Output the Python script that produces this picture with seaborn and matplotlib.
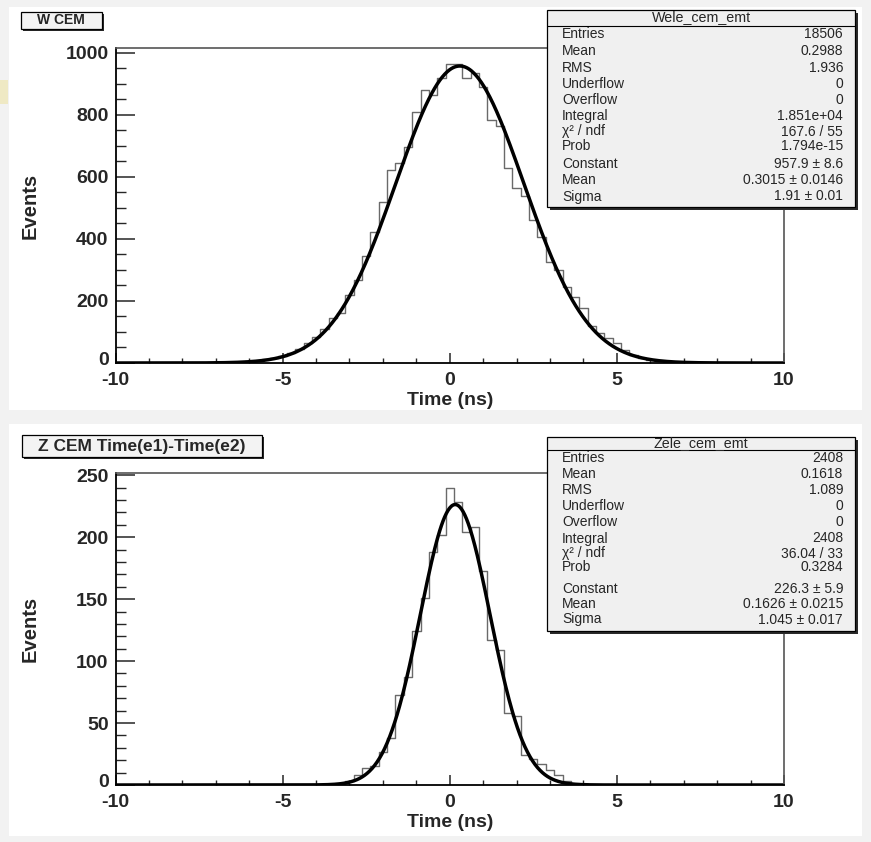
import numpy as np
import pandas as pd
import matplotlib
matplotlib.use("Agg")
import matplotlib.pyplot as plt
import matplotlib.transforms as mtrans
import seaborn as sns
from matplotlib.patches import Rectangle
from matplotlib.ticker import MultipleLocator, FixedLocator

# ---------------- data ----------------
w_counts = [1, 1, 2, 2, 4, 5, 7, 12, 16, 22, 33, 46, 63, 84, 110, 145, 161, 219, 267,
            345, 422, 520, 622, 644, 698, 810, 880, 864, 918,
            963, 963, 918, 934, 891, 784, 765, 628, 563, 540, 461, 407, 326, 300, 246,
            212, 176, 120, 97, 81, 64, 41, 25, 16, 10, 7, 4, 3, 1]
w_first_edge = -7.375
z_counts = [1, 0, 1, 1, 3, 8, 14, 15, 27, 38, 73, 87, 124, 151, 188, 202,
            240, 228, 204, 208, 173, 117, 109, 58, 56, 24, 21, 17, 12, 8, 3, 1, 1]
z_first_edge = -4.125
bin_width = 0.25

w_fit = [957.9, 0.3015, 1.91]      # constant, mean, sigma
z_fit = [226.3, 0.1626, 1.045]

stat_labels = ["Entries", "Mean", "RMS", "Underflow", "Overflow", "Integral",
               "\u03c7\u00b2 / ndf", "Prob", "Constant", "Mean", "Sigma"]
w_stat_values = ["18506", "0.2988", "1.936", "0", "0", "1.851e+04", "167.6 / 55",
                 "1.794e-15", "957.9 \u00b1 8.6", "0.3015 \u00b1 0.0146", "1.91 \u00b1 0.01"]
z_stat_values = ["2408", "0.1618", "1.089", "0", "0", "2408", "36.04 / 33",
                 "0.3284", "226.3 \u00b1 5.9", "0.1626 \u00b1 0.0215", "1.045 \u00b1 0.017"]
w_stat_title = "Wele_cem_emt"
z_stat_title = "Zele_cem_emt"
w_title = "W CEM"
z_title = "Z CEM Time(e1)-Time(e2)"

x_ticks = [-10, -5, 0, 5, 10]
w_yticks = [0, 200, 400, 600, 800, 1000]
z_yticks = [0, 50, 100, 150, 200, 250]
x_label = "Time (ns)"
y_label = "Events"

# ---------------- style ----------------
sns.set_style("white")
plt.rcParams["font.family"] = ["Liberation Sans", "DejaVu Sans"]

W, H = 871, 842
fig = plt.figure(figsize=(W / 100, H / 100), dpi=100)
fig.patch.set_facecolor("#f2f2f2")


def fx(x):
    return x / W


def fy(y):
    return 1 - y / H


def frect(x0, y0, x1, y1, **kw):
    r = Rectangle((fx(x0), fy(y1)), fx(x1) - fx(x0), fy(y0) - fy(y1),
                  transform=fig.transFigure, **kw)
    fig.add_artist(r)
    return r


# pads
frect(9, 7, 862, 410, facecolor="white", edgecolor="none", zorder=-5)
frect(9, 424, 862, 836, facecolor="white", edgecolor="none", zorder=-5)
frect(0, 80, 8, 104, facecolor="#efe9c4", edgecolor="none", zorder=-4)


def make_axes(top_px, bot_px):
    left, right = 115.5, 784
    return fig.add_axes([fx(left), fy(bot_px), fx(right) - fx(left), fy(top_px) - fy(bot_px)])


def draw_panel(ax, counts, first_edge, fit, yticks, ymax, yminor):
    n = len(counts)
    edges = [float(e) for e in first_edge + bin_width * np.arange(n + 1)]
    df = pd.DataFrame({"t": [e + bin_width / 2 for e in edges[:-1]],
                       "n": [float(c) for c in counts]})
    sns.histplot(data=df, x="t", weights="n", bins=edges, element="step", fill=False,
                 color="#6a6a6a", linewidth=1.0, ax=ax)
    xs = np.linspace(-10, 10, 801)
    ys = fit[0] * np.exp(-0.5 * ((xs - fit[1]) / fit[2]) ** 2)
    sns.lineplot(x=xs, y=ys, color="black", linewidth=2.5, ax=ax)
    ax.set_xlim(-10, 10)
    ax.set_ylim(0, ymax)
    ax.set_facecolor("white")
    ax.xaxis.set_major_locator(FixedLocator(x_ticks))
    ax.xaxis.set_minor_locator(MultipleLocator(1))
    ax.yaxis.set_major_locator(FixedLocator(yticks))
    ax.yaxis.set_minor_locator(MultipleLocator(yminor))
    ax.set_xticklabels([str(t) for t in x_ticks])
    ax.set_yticklabels([str(t) for t in yticks])
    ax.tick_params(axis="x", which="major", direction="in", length=7, width=1.1,
                   labelsize=14, pad=6.5, bottom=True, top=False)
    ax.tick_params(axis="x", which="minor", direction="in", length=3.5, width=1.0,
                   bottom=True, top=False)
    ax.tick_params(axis="y", which="major", direction="in", length=14, width=1.1,
                   labelsize=14, pad=5, left=True, right=False)
    ax.tick_params(axis="y", which="minor", direction="in", length=7, width=1.0,
                   left=True, right=False)
    for lab in ax.get_xticklabels() + ax.get_yticklabels():
        lab.set_fontweight("bold")
    zero_lab = ax.get_yticklabels()[0]
    zero_lab.set_transform(zero_lab.get_transform() +
                           mtrans.ScaledTranslation(0, 3 / 72, fig.dpi_scale_trans))
    for s in ["left", "bottom"]:
        ax.spines[s].set_color("black")
        ax.spines[s].set_linewidth(1.3)
    for s in ["top", "right"]:
        ax.spines[s].set_color("#555555")
        ax.spines[s].set_linewidth(1.2)
        ax.spines[s].set_visible(True)
    ax.set_xlabel(x_label, fontsize=14, fontweight="bold")
    ax.set_ylabel(y_label, fontsize=14.5, fontweight="bold")
    ax.xaxis.label.set_va("center")
    ax.yaxis.label.set_va("center")
    ax.xaxis.set_label_coords(0.5, -0.12)
    ax.yaxis.set_label_coords(-0.128, 0.5)


ax1 = make_axes(48.3, 363)
draw_panel(ax1, w_counts, w_first_edge, w_fit, w_yticks, 1015, 50)
ax2 = make_axes(472.7, 785)
draw_panel(ax2, z_counts, z_first_edge, z_fit, z_yticks, 252, 10)


def shadow_box(x0, y0, x1, y1, fill, sh=3):
    frect(x0 + sh, y0 + sh, x1 + sh, y1 + sh, facecolor="#2a2a2a", edgecolor="none", zorder=10)
    frect(x0, y0, x1, y1, facecolor=fill, edgecolor="black", linewidth=0.9, zorder=11)


def stats_box(x0, y0, x1, y1, title, title_y, header_y, rows_y, values):
    shadow_box(x0, y0, x1, y1, "#f0f0f0")
    fig.add_artist(plt.Line2D([fx(x0), fx(x1)], [fy(header_y), fy(header_y)],
                              transform=fig.transFigure, color="black", linewidth=0.8, zorder=12))
    fig.text(fx((x0 + x1) / 2), fy(title_y), title, ha="center", va="center",
             fontsize=10.3, zorder=13)
    for lab, val, yy in zip(stat_labels, values, rows_y):
        fig.text(fx(x0 + 15), fy(yy), lab, ha="left", va="center", fontsize=10, zorder=13)
        fig.text(fx(x1 - 12), fy(yy), val, ha="right", va="center", fontsize=10, zorder=13)


stats_box(547, 10, 855, 207, w_stat_title, 17.5, 25.5,
          [33.5, 51, 67.5, 83.5, 99.5, 116, 131.5, 146, 164.5, 180, 196.5], w_stat_values)
stats_box(547, 436.5, 855, 631, z_stat_title, 443.5, 450.5,
          [458, 473.5, 490.5, 506.5, 521.5, 538.5, 553.5, 567, 589, 603.5, 619.5], z_stat_values)


def title_box(x0, y0, x1, y1, text, size):
    shadow_box(x0, y0, x1, y1, "#f3f3f3", sh=2)
    fig.text(fx((x0 + x1) / 2), fy((y0 + y1) / 2 + 0.5), text, ha="center", va="center",
             fontsize=size, fontweight="bold", zorder=13)


title_box(21, 11.5, 101.5, 28.5, w_title, 10)
title_box(22, 434.5, 262, 456.5, z_title, 12.5)

fig.savefig("out.png", dpi=100, facecolor=fig.get_facecolor())
